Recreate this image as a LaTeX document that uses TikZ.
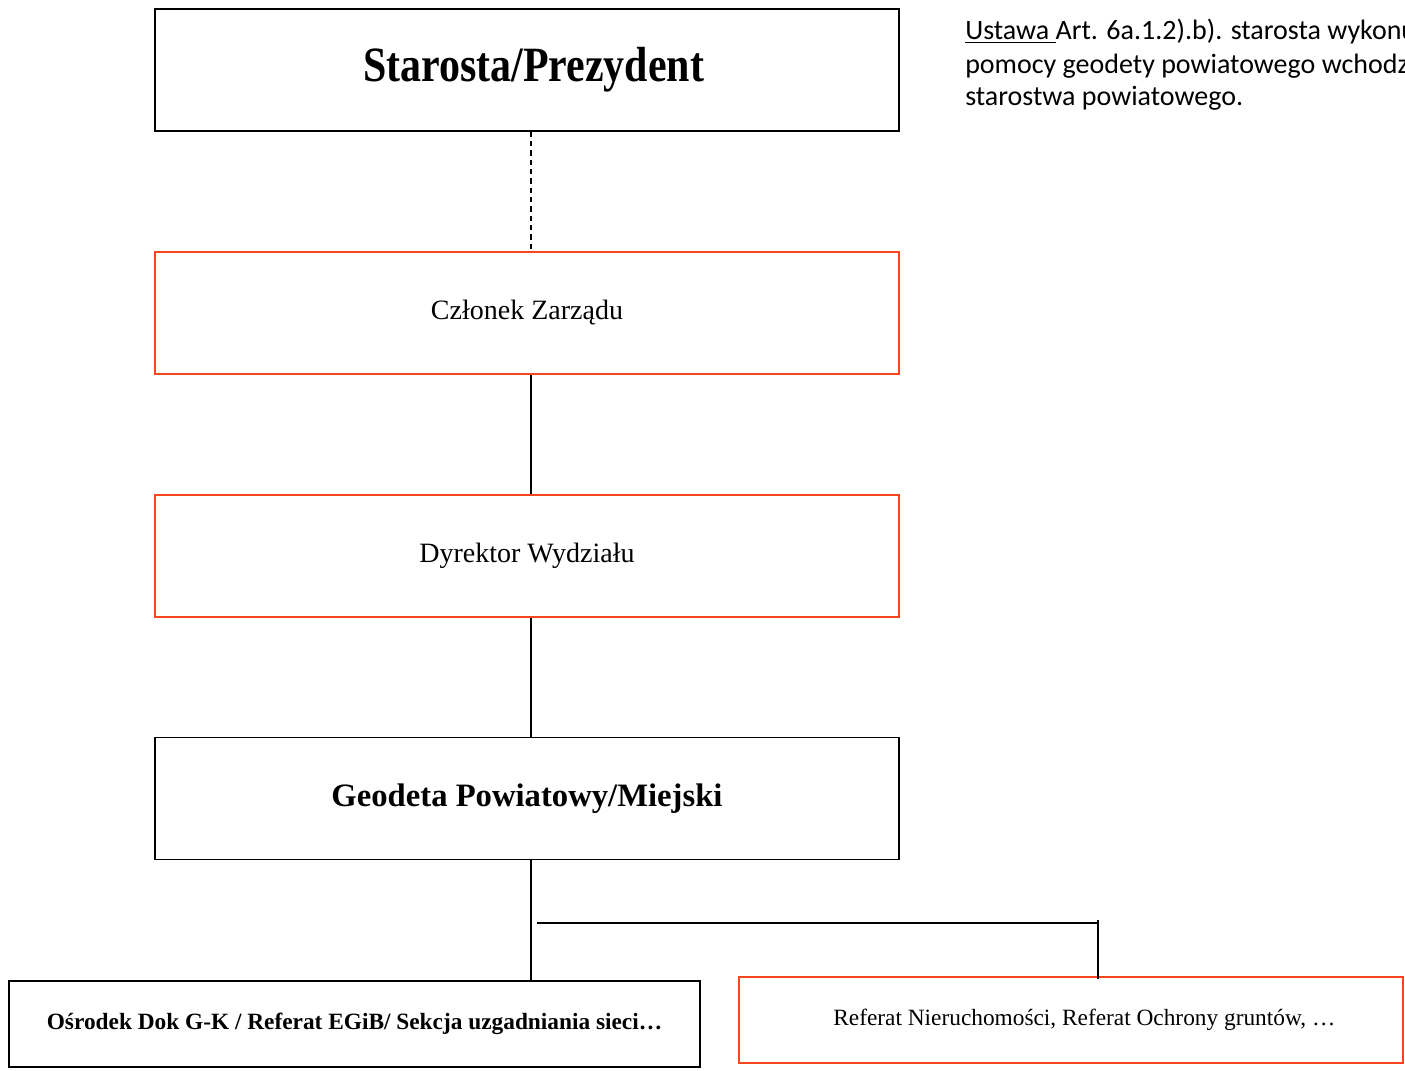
\documentclass[tikz,border=0pt]{standalone}
\usepackage{fontspec}
\setmainfont{Liberation Serif}
\newfontfamily\narrowserif[FakeStretch=0.85]{Liberation Serif}
\newfontfamily\lawfont{Carlito}
\usepackage{tikz}
\usetikzlibrary{calc,positioning}
\definecolor{myorange}{RGB}{250,70,30}
\tikzstyle{levelbox}=[draw,line width=1.2pt,minimum width=558pt,minimum height=91.5pt,inner sep=0pt]
\tikzstyle{redbox}=[levelbox,draw=myorange,font=\fontsize{21}{25}\selectfont]
\tikzstyle{unitbox}=[draw,line width=1.2pt,minimum height=64.5pt,inner sep=0pt,font=\fontsize{17.5}{20}\selectfont]
\tikzstyle{link}=[line width=1pt]
\tikzstyle{lawline}=[anchor=base west,inner sep=0pt,font=\lawfont\fontsize{21}{25}\selectfont]

\begin{document}
\begin{tikzpicture}[x=0.75pt,y=-0.75pt]
\useasboundingbox (0,0) rectangle (1405,1070);
% chain of posts
\node [levelbox,font=\narrowserif\bfseries\fontsize{37}{42}\selectfont] (starosta) at (527,70) {\hspace*{10pt}Starosta/Prezydent};
\node [redbox] (czlonek) at (527,313) {Członek Zarządu};
\node [redbox] (dyrektor) at (527,556) {Dyrektor Wydziału};
\node [levelbox,font=\bfseries\fontsize{24.5}{29}\selectfont] (geodeta) at (527,798.5) {Geodeta Powiatowy/Miejski};
% units
\node [unitbox,minimum width=518.25pt,font=\bfseries\fontsize{17.5}{20}\selectfont] (osrodek) at (354.5,1024) {Ośrodek Dok G-K / Referat EGiB/ Sekcja uzgadniania sieci…};
\node [unitbox,minimum width=498pt,draw=myorange] (referat) at (1071,1020) {\hspace*{20pt}Referat Nieruchomości, Referat Ochrony gruntów, …};
% note
\node [lawline] (law1) at (965,40) {\underline{Ustawa\ }Art. 6a.1.2).b). starosta wykonuje przy};
\node [lawline] (law2) at (965,74) {pomocy geodety powiatowego wchodzącego w skład};
\node [lawline] (law3) at (965,106) {starostwa powiatowego.};
% connectors
\coordinate (stem) at (531,0);
\coordinate (branch) at (537,923);
\coordinate (drop) at (1098,920);
\draw [link,dash pattern=on 4pt off 3pt] (starosta.south -| stem) -- (czlonek.north -| stem);
\draw [link] (czlonek.south -| stem) -- (dyrektor.north -| stem);
\draw [link] (dyrektor.south -| stem) -- (geodeta.north -| stem);
\draw [link] (geodeta.south -| stem) -- (osrodek.north -| stem);
\draw [line width=1.6pt] (branch) -- (branch -| drop);
\draw [link] (drop) -- ([yshift=-2pt]drop |- referat.north);
\end{tikzpicture}
\end{document}
